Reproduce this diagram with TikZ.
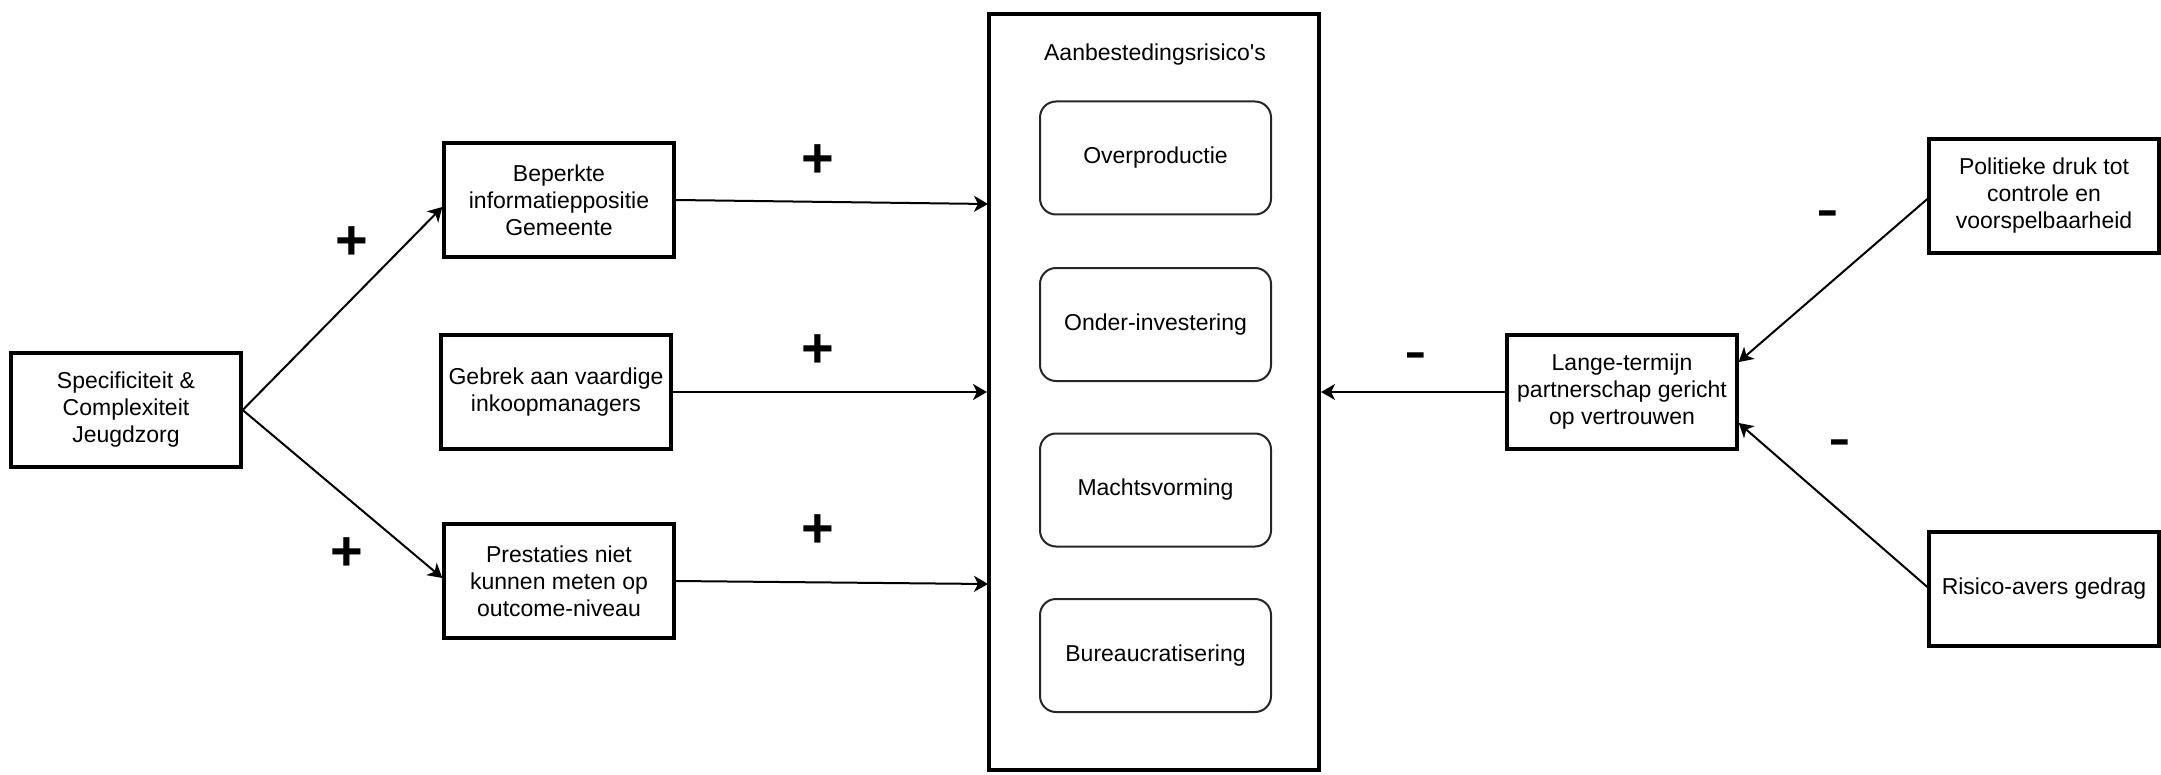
\documentclass[tikz,border=0pt]{standalone}
\usepackage{fontspec}
\setmainfont{Liberation Sans}[Ligatures=TeXOff]
\usetikzlibrary{arrows.meta}

\begin{document}
\begin{tikzpicture}[x=0.5pt,y=-0.5pt,
  txt/.style={font=\fontsize{11.5}{13.5}\selectfont, align=center},
  factor/.style={txt, draw, line width=1.7pt, minimum width=115pt, minimum height=57pt, inner sep=0pt},
  risk/.style={txt, draw=black!85, line width=1pt, rounded corners=8pt, minimum width=115.5pt, minimum height=56.5pt, inner sep=0pt},
  frame/.style={draw, line width=2pt, minimum width=165pt, minimum height=378pt, inner sep=0pt},
  link/.style={line width=1pt, -{Stealth[length=7pt,width=8pt,inset=2pt]}},
  plussign/.style={font=\fontsize{28}{28}\selectfont\bfseries, inner sep=0pt, yshift=-1pt},
  minussign/.style={font=\fontsize{34}{34}\selectfont, inner sep=0pt, yshift=-4.5pt},
]
\useasboundingbox (0,0) rectangle (2161,775);

% risk block
\node[frame] (risks) at (1154,392) {};
\node[txt] (title) at (1155,55) {Aanbestedingsrisico's};
\node[risk] (r1) at (1155.5,158) {Overproductie};
\node[risk] (r2) at (1155.5,324.5) {Onder-investering};
\node[risk] (r3) at (1155.5,490) {Machtsvorming};
\node[risk] (r4) at (1155.5,655.5) {Bureaucratisering};

% left-hand factors
\node[factor] (spec) at (126,410) {Specificiteit \&\\Complexiteit\\Jeugdzorg};
\node[factor] (bep) at (559,200) {Beperkte\\informatieppositie\\Gemeente};
\node[factor] (geb) at (556,392) {Gebrek aan vaardige\\inkoopmanagers};
\node[factor] (pre) at (559,581) {Prestaties niet\\kunnen meten op\\outcome-niveau};

% right-hand factors
\node[factor] (lan) at (1622,392) {Lange-termijn\\partnerschap gericht\\op vertrouwen};
\node[factor] (pol) at (2044,196) {Politieke druk tot\\controle en\\voorspelbaarheid};
\node[factor] (ris) at (2044,589) {Risico-avers gedrag};

% arrow end points on the risk block
\coordinate (inA) at (988,204);
\coordinate (inC) at (988,584);

% connectors
\draw[link] (spec.east) -- ([yshift=-3.5pt]bep.west);
\draw[link] (spec.east) -- ([yshift=1.5pt]pre.west);
\draw[link] (bep.east) -- (inA);
\draw[link] (geb.east) -- (geb.east -| risks.west);
\draw[link] (pre.east) -- (inC);
\draw[link] (lan.west) -- (lan.west -| risks.east);
\draw[link] ([yshift=-1.5pt]pol.west) -- ([yshift=15pt]lan.east);
\draw[link] ([yshift=1pt]ris.west) -- ([yshift=-15.5pt]lan.east);

% signs
\node[plussign] (p1) at (352,241) {+};
\node[plussign] (p2) at (347,552) {+};
\node[plussign] (p3) at (818,159) {+};
\node[plussign] (p4) at (818,349) {+};
\node[plussign] (p5) at (818,529) {+};
\node[minussign] (m1) at (1828,212) {-};
\node[minussign] (m2) at (1840,441) {-};
\node[minussign] (m3) at (1416,354) {-};
\end{tikzpicture}
\end{document}
